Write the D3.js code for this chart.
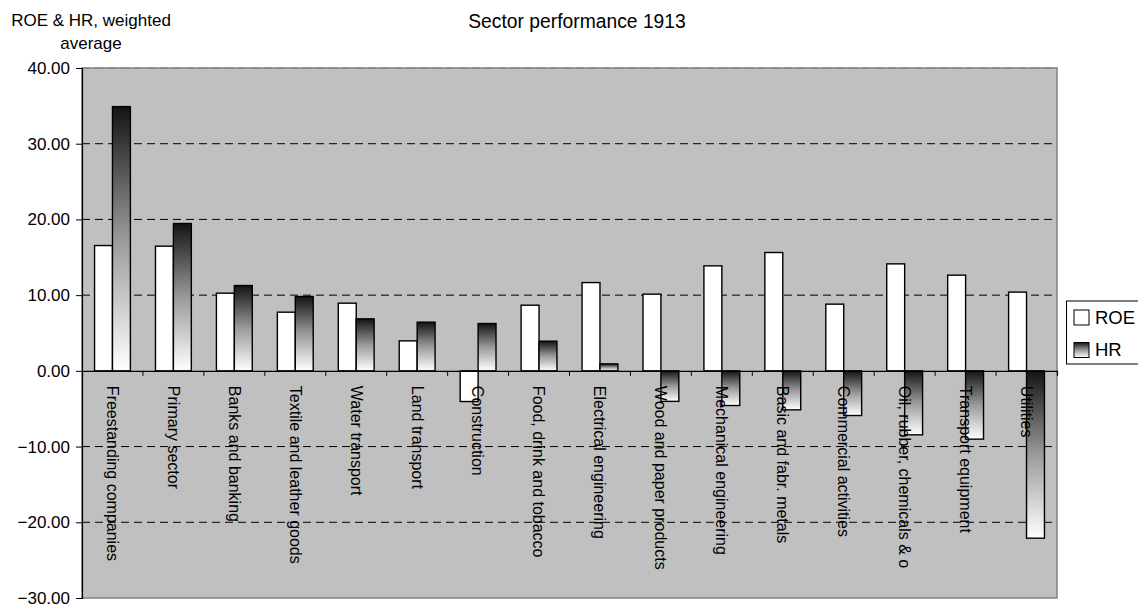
<!DOCTYPE html>
<html>
<head>
<meta charset="utf-8">
<script src="https://cdn.jsdelivr.net/npm/d3@7"></script>
<style>
  html, body { margin: 0; padding: 0; background: #fff; }
  svg { display: block; font-family: "Liberation Sans", Arial, sans-serif; }
</style>
</head>
<body>
<svg id="chart" width="1138" height="605"></svg>
<script>
// Sector performance in 1913: return on equity and holding return per sector
const sectors = [
  "Freestanding companies", "Primary sector", "Banks and banking",
  "Textile and leather goods", "Water transport", "Land transport",
  "Construction", "Food, drink and tobacco", "Electrical engineering",
  "Wood and paper products", "Mechanical engineering", "Basic and fabr. metals",
  "Commercial activities", "Oil, rubber, chemicals & o", "Transport equipment",
  "Utilities"
];
const roe = [16.55, 16.47, 10.26, 7.75, 8.94, 3.96, -4.05, 8.67, 11.66, 10.13, 13.87, 15.63, 8.81, 14.13, 12.64, 10.40];
const hr  = [34.90, 19.46, 11.27, 9.82, 6.87, 6.43, 6.25, 3.92, 0.92, -4.03, -4.58, -5.15, -5.90, -8.45, -9.02, -22.10];
const yTicks = [40, 30, 20, 10, 0, -10, -20, -30];
const seriesNames = ["ROE", "HR"];

const svg = d3.select("#chart");
const plot = { left: 82, right: 1057, top: 68, bottom: 598 };

const x = d3.scaleBand().domain(sectors).range([plot.left, plot.right]).padding(0);
const y = d3.scaleLinear().domain([-30, 40]).range([plot.bottom, plot.top]);

// Vertical dark-to-light fill used for the HR bars
const defs = svg.append("defs");
const grad = defs.append("linearGradient")
  .attr("id", "hrFill").attr("x1", 0).attr("y1", 0).attr("x2", 0).attr("y2", 1);
grad.append("stop").attr("offset", "0%").attr("stop-color", "#141414");
grad.append("stop").attr("offset", "50%").attr("stop-color", "#9a9a9a");
grad.append("stop").attr("offset", "100%").attr("stop-color", "#ffffff");

// Plot background
svg.append("rect")
  .attr("x", plot.left).attr("y", plot.top)
  .attr("width", plot.right - plot.left).attr("height", plot.bottom - plot.top)
  .attr("fill", "#c0c0c0").attr("stroke", "#808080").attr("stroke-width", 1.5);

// Dashed horizontal gridlines
svg.append("g").selectAll("line")
  .data(yTicks.filter(t => t !== 0 && t !== -30))
  .join("line")
  .attr("x1", plot.left).attr("x2", plot.right)
  .attr("y1", d => y(d)).attr("y2", d => y(d))
  .attr("stroke", d => d === 40 ? "#808080" : "#000")
  .attr("stroke-width", 1)
  .attr("stroke-dasharray", "8,5");

// Bars
const bw = x.bandwidth();
const barW = bw / 3.4;
const off = (bw - 2 * barW) / 2;
const bars = svg.append("g");
[roe, hr].forEach((vals, si) => {
  bars.selectAll(null)
    .data(vals.map((v, i) => ({ v, s: sectors[i] })))
    .join("rect")
    .attr("x", d => x(d.s) + off + si * barW)
    .attr("y", d => y(Math.max(0, d.v)))
    .attr("width", barW)
    .attr("height", d => Math.abs(y(d.v) - y(0)))
    .attr("fill", si === 0 ? "#ffffff" : "url(#hrFill)")
    .attr("stroke", "#000")
    .attr("stroke-width", 1.4);
});

// Zero line with category separator ticks
const xAxis = d3.axisBottom(x).tickSize(5).tickFormat("");
const xg = svg.append("g").attr("transform", `translate(0,${y(0)})`).call(xAxis);
xg.select(".domain").attr("stroke", "#000").attr("stroke-width", 1.2);
xg.selectAll(".tick").attr("transform", d => `translate(${x(d) + bw},0)`);
xg.selectAll(".tick").filter((d, i) => i === sectors.length - 1).remove();
xg.selectAll(".tick line").attr("stroke", "#000");

// Category labels, rotated to read downward
svg.append("g").selectAll("text")
  .data(sectors)
  .join("text")
  .attr("transform", d => `translate(${x(d) + bw / 2},${y(0) + 15}) rotate(90)`)
  .attr("dy", "0.35em")
  .attr("font-size", 16)
  .attr("fill", "#000")
  .text(d => d);

// Value axis
const yAxis = d3.axisLeft(y).tickValues(yTicks).tickSize(6).tickPadding(6)
  .tickFormat(d3.format(".2f"));
const yg = svg.append("g").attr("transform", `translate(${plot.left},0)`).call(yAxis);
yg.select(".domain").attr("stroke", "#000").attr("stroke-width", 1.2);
yg.selectAll(".tick line").attr("stroke", "#000");
yg.selectAll(".tick text").attr("font-size", 17).attr("fill", "#000")
  .attr("font-family", "Liberation Sans, Arial, sans-serif");

// Titles
svg.append("text").attr("x", 577).attr("y", 28).attr("text-anchor", "middle")
  .attr("font-size", 19.3).text("Sector performance 1913");
svg.append("text").attr("x", 91).attr("y", 26).attr("text-anchor", "middle")
  .attr("font-size", 17).text("ROE & HR, weighted");
svg.append("text").attr("x", 91).attr("y", 49).attr("text-anchor", "middle")
  .attr("font-size", 17).text("average");

// Legend
const lg = svg.append("g").attr("transform", "translate(1066.5,301)");
lg.append("rect").attr("width", 90).attr("height", 63)
  .attr("fill", "#fff").attr("stroke", "#000").attr("stroke-width", 1);
seriesNames.forEach((name, i) => {
  const cy = 16.5 + i * 32.5;
  lg.append("rect").attr("x", 7.5).attr("y", cy - 7.5).attr("width", 15).attr("height", 15)
    .attr("fill", i === 0 ? "#fff" : "url(#hrFill)").attr("stroke", "#000").attr("stroke-width", 1);
  lg.append("text").attr("x", 28.5).attr("y", cy).attr("dy", "0.35em")
    .attr("font-size", 18.5).text(name);
});
</script>
</body>
</html>
